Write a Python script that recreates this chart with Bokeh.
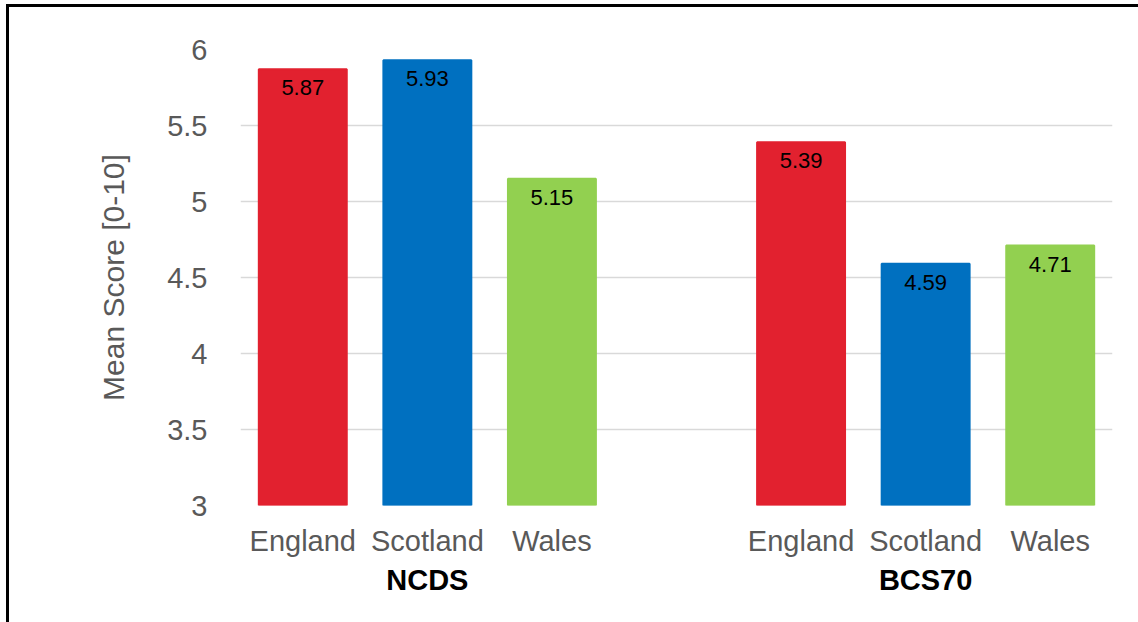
from bokeh.plotting import figure
from bokeh.models import (ColumnDataSource, Range1d, LinearAxis, FixedTicker,
                          NumeralTickFormatter, InlineStyleSheet)
from bokeh.core.properties import value
from bokeh.embed import file_html
from bokeh.resources import INLINE

# ---- data ----
cohorts = ["NCDS", "BCS70"]
countries = ["England", "Scotland", "Wales"]
ncds_scores = [5.87, 5.93, 5.15]
bcs70_scores = [5.39, 4.59, 4.71]
country_colors = ["#E2212F", "#0070C0", "#92D050"]
y_ticks = [3, 3.5, 4, 4.5, 5, 5.5, 6]

# slot positions: 3 bars per cohort, with one empty slot between cohorts
xs, ys, cols, labs, names = [], [], [], [], []
for gi, scores in enumerate([ncds_scores, bcs70_scores]):
    for ci, v in enumerate(scores):
        xs.append(gi * 4 + ci)
        ys.append(v)
        cols.append(country_colors[ci])
        labs.append(f"{v:.2f}")
        names.append(countries[ci])
group_centers = [gi * 4 + 1 for gi in range(len(cohorts))]

src = ColumnDataSource(dict(x=xs, top=ys, color=cols, label=labs))

FONT = "Liberation Sans"

p = figure(width=1138, height=622, output_backend="svg", toolbar_location=None,
           x_range=Range1d(-0.5, 6.5), y_range=Range1d(3, 6),
           x_axis_location=None, y_axis_location=None,
           min_border_left=240, min_border_right=26, min_border_top=49,
           min_border_bottom=117)
p.outline_line_color = None
p.background_fill_color = "white"
p.border_fill_color = "white"

p.vbar(x="x", top="top", bottom=3, width=0.706, fill_color="color",
       line_color="color", line_width=2, source=src)
p.text(x="x", y="top", text="label", source=src, text_align="center",
       text_baseline="top", y_offset=11, text_font=value(FONT),
       text_font_size="22px", text_color="black")

# y axis
yax = LinearAxis(ticker=FixedTicker(ticks=y_ticks),
                 formatter=NumeralTickFormatter(format="0.[0]"),
                 axis_label="Mean Score [0-10]")
yax.axis_line_color = None
yax.major_tick_line_color = None
yax.minor_tick_line_color = None
yax.major_label_standoff = 27
yax.major_label_text_font = FONT
yax.major_label_text_font_size = "29px"
yax.major_label_text_color = "#595959"
yax.axis_label_text_font = FONT
yax.axis_label_text_font_size = "30px"
yax.axis_label_text_font_style = "normal"
yax.axis_label_text_color = "#595959"
yax.axis_label_standoff = 34
p.add_layout(yax, "left")

# category axis
xax = LinearAxis(ticker=FixedTicker(ticks=xs),
                 major_label_overrides={x: n for x, n in zip(xs, names)})
xax.axis_line_color = None
xax.major_tick_line_color = None
xax.minor_tick_line_color = None
xax.major_label_standoff = 13
xax.major_label_text_font = FONT
xax.major_label_text_font_size = "29px"
xax.major_label_text_color = "#595959"
p.add_layout(xax, "below")

# cohort axis
gax = LinearAxis(ticker=FixedTicker(ticks=group_centers),
                 major_label_overrides={c: cohorts[i] for i, c in enumerate(group_centers)})
gax.axis_line_color = None
gax.major_tick_line_color = None
gax.minor_tick_line_color = None
gax.major_label_standoff = -2
gax.major_label_text_font = FONT
gax.major_label_text_font_size = "29px"
gax.major_label_text_font_style = "bold"
gax.major_label_text_color = "black"
p.add_layout(gax, "below")

p.xgrid.visible = False
p.ygrid.ticker = FixedTicker(ticks=y_ticks)
p.ygrid.grid_line_color = "#D9D9D9"
p.ygrid.grid_line_width = 1.5

# chart border (left & top edges visible, rest off-window)
border_css = InlineStyleSheet(css="""
:host { position: relative; overflow: hidden; }
:host::after {
  content: "";
  position: absolute;
  left: 6px; top: 4px; width: 2000px; height: 2000px;
  border-left: 3px solid black; border-top: 3px solid black;
  pointer-events: none; z-index: 100;
}
""")
p.stylesheets = [border_css]

open("out.html", "w").write(file_html(p, INLINE))
